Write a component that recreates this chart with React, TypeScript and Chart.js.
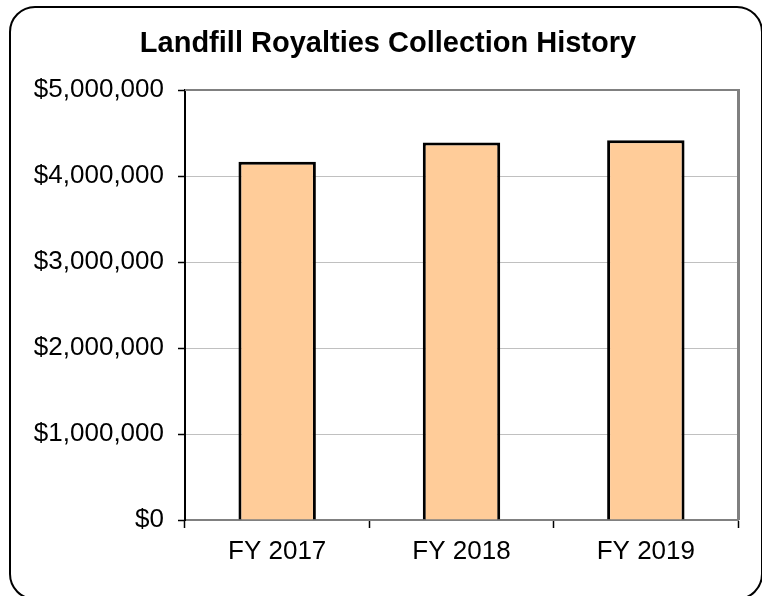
import React, { useEffect, useRef } from "react";
import { Chart, registerables } from "chart.js";

Chart.register(...registerables);

const categories = ["FY 2017", "FY 2018", "FY 2019"];
const royalties = [4165000, 4390000, 4415000];
const yMin = 0;
const yMax = 5000000;
const yStep = 1000000;
const chartTitle = "Landfill Royalties Collection History";

const plotBorder = {
  id: "plotBorder",
  afterDraw(chart: any) {
    const { ctx, chartArea } = chart;
    ctx.save();
    ctx.strokeStyle = "#808080";
    ctx.lineWidth = 2;
    ctx.beginPath();
    ctx.moveTo(chartArea.left, chartArea.top);
    ctx.lineTo(chartArea.right, chartArea.top);
    ctx.stroke();
    ctx.lineWidth = 3;
    ctx.beginPath();
    ctx.moveTo(chartArea.right + 0.5, chartArea.top - 1);
    ctx.lineTo(chartArea.right + 0.5, chartArea.bottom);
    ctx.stroke();
    ctx.restore();
  },
};

const titlePlugin = {
  id: "customTitle",
  afterDraw(chart: any) {
    const { ctx } = chart;
    ctx.save();
    ctx.fillStyle = "#000";
    ctx.font = "bold 29px 'Liberation Sans', Arial, sans-serif";
    ctx.textAlign = "center";
    ctx.textBaseline = "alphabetic";
    ctx.fillText(chartTitle, 388, 52);
    ctx.restore();
  },
};

export default function App() {
  const ref = useRef<HTMLCanvasElement>(null);
  useEffect(() => {
    document.body.style.margin = "0";
    const chart = new Chart(ref.current!, {
      type: "bar",
      data: {
        labels: categories,
        datasets: [
          {
            data: royalties,
            backgroundColor: "#FFCC99",
            borderColor: "#000000",
            borderWidth: 3,
            categoryPercentage: 1,
            barPercentage: 0.42,
          },
        ],
      },
      options: {
        animation: false,
        responsive: false,
        maintainAspectRatio: false,
        layout: { padding: { left: 15, right: 24, top: 90, bottom: 0 } },
        plugins: {
          legend: { display: false },
          tooltip: { enabled: false },
          title: { display: false },
        },
        scales: {
          x: {
            offset: true,
            grid: {
              offset: true,
              drawOnChartArea: false,
              drawTicks: true,
              tickLength: 8,
              tickColor: "#000",
              tickWidth: 1.5,
            },
            border: { color: "#808080", width: 2 },
            ticks: {
              color: "#000",
              font: { family: "Liberation Sans, Arial, sans-serif", size: 26 },
              padding: 8,
            },
            afterFit(scale: any) {
              scale.height = 76;
            },
          },
          y: {
            min: yMin,
            max: yMax,
            ticks: {
              stepSize: yStep,
              color: "#000",
              font: { family: "Liberation Sans, Arial, sans-serif", size: 26 },
              padding: 14,
              callback: (v: any) => "$" + Number(v).toLocaleString("en-US"),
            },
            grid: {
              color: "#C0C0C0",
              lineWidth: 1,
              tickLength: 7,
              tickColor: "#000",
              tickWidth: 1.5,
            },
            border: { color: "#000", width: 2 },
            afterFit(scale: any) {
              scale.width = 170;
            },
          },
        },
      },
      plugins: [plotBorder, titlePlugin],
    });
    return () => chart.destroy();
  }, []);
  return (
    <div style={{ position: "fixed", left: 0, top: 0, width: 762, height: 596, overflow: "hidden", background: "#fff" }}>
      <div
        style={{
          position: "absolute",
          left: 9,
          top: 6,
          width: 754,
          height: 594,
          border: "2px solid #000",
          borderRadius: 26,
          boxSizing: "border-box",
        }}
      />
      <canvas ref={ref} width={762} height={596} style={{ position: "absolute", left: 0, top: 0 }} />
    </div>
  );
}
